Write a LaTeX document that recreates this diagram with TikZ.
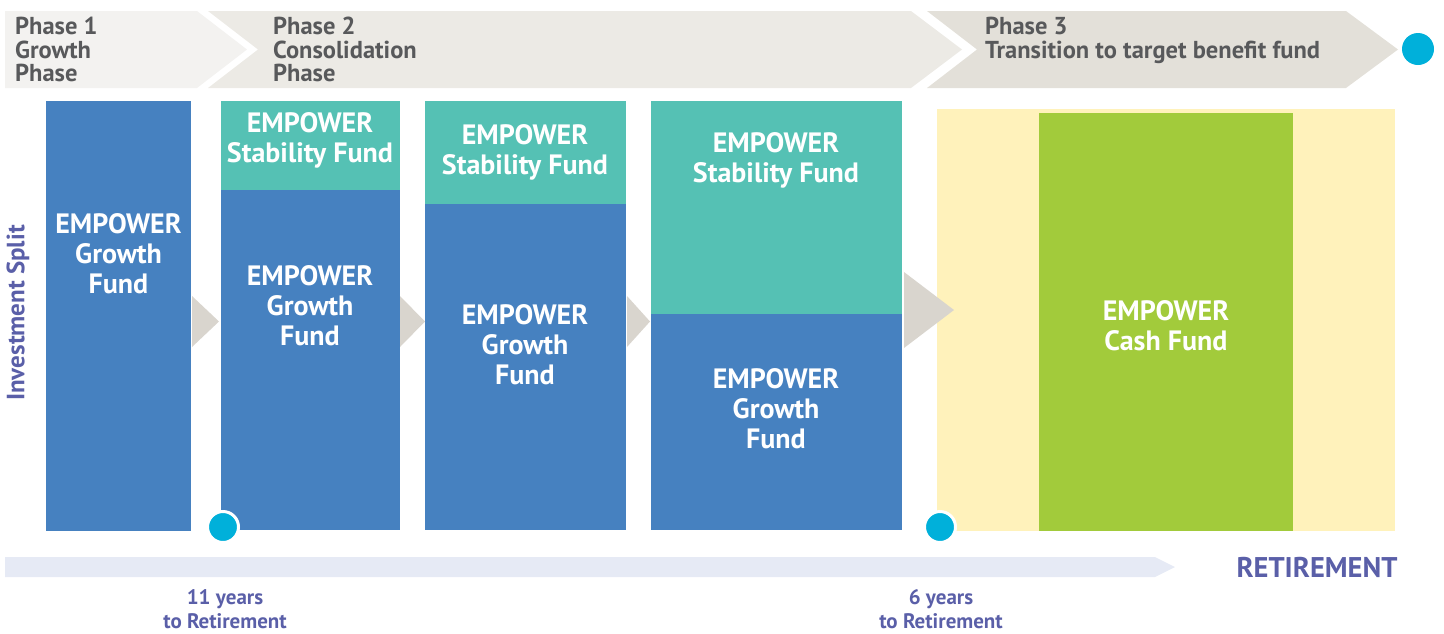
\documentclass[tikz,border=0pt]{standalone}
\usepackage{fontspec}
\setmainfont{PT Sans}
\definecolor{phA}{HTML}{F3F2F0}
\definecolor{phB}{HTML}{ECEAE5}
\definecolor{phC}{HTML}{E3E0D9}
\definecolor{fblue}{HTML}{4681C0}
\definecolor{fteal}{HTML}{55C1B4}
\definecolor{fyellow}{HTML}{FFF2BB}
\definecolor{fgreen}{HTML}{A2CB3B}
\definecolor{agray}{HTML}{D9D5CE}
\definecolor{dotc}{HTML}{00B0DA}
\definecolor{barc}{HTML}{E6EAF5}
\definecolor{purp}{HTML}{5A5FA8}
\definecolor{tgray}{HTML}{58595B}
\begin{document}
\begin{tikzpicture}[x=1pt,y=-1pt,
  fundtxt/.style={text=white,font=\bfseries\fontsize{28}{30}\selectfont,align=center,inner sep=0pt},
  phasetxt/.style={text=tgray,font=\bfseries\fontsize{24.5}{23.5}\selectfont,align=left,anchor=north west,inner sep=0pt},
  yeartxt/.style={text=purp,font=\bfseries\fontsize{21}{24}\selectfont,align=center,inner sep=0pt},
  dotst/.style={circle,fill=dotc,draw=white,line width=3pt,minimum size=31pt,inner sep=0pt},
  tri/.style={fill=agray}]
\useasboundingbox (0,0) rectangle (1444,633);
% phase bands
\fill[phA] (5,11) -- (197,11) -- (247,49.5) -- (197,88) -- (5,88) -- cycle;
\fill[phB] (208,11) -- (911,11) -- (962,49.5) -- (911,88) -- (208,88) -- (258,49.5) -- cycle;
\fill[phC] (927,11) -- (1346,11) -- (1398,49.5) -- (1346,88) -- (927,88) -- (977,49.5) -- cycle;
\node[phasetxt] (p1) at (15,17) {Phase 1\\Growth\\Phase};
\node[phasetxt] (p2) at (273,17) {Phase 2\\Consolidation\\Phase};
\node[phasetxt] (p3) at (985,17) {Phase 3\\Transition to target benefit fund};
\node[circle,fill=dotc,minimum size=32pt,inner sep=0pt] (dend) at (1418,49) {};
% columns
\fill[fblue] (46,101) rectangle (191,531);
\fill[fteal] (221,101) rectangle (400,190);
\fill[fblue] (221,190) rectangle (400,530);
\fill[fteal] (425,101) rectangle (626,204);
\fill[fblue] (425,204) rectangle (626,530);
\fill[fteal] (651,101) rectangle (902,314);
\fill[fblue] (651,314) rectangle (902,530);
\fill[fyellow] (937,109) rectangle (1395,531);
\fill[fgreen] (1039,113) rectangle (1293,531);
% arrows
\fill[tri] (192,296) -- (219,321.5) -- (192,347) -- cycle;
\fill[tri] (400,296) -- (425,321.5) -- (400,347) -- cycle;
\fill[tri] (627,296) -- (650,321.5) -- (627,347) -- cycle;
\fill[tri] (904,272) -- (954,310) -- (904,348) -- cycle;
% texts
\node[fundtxt] (g1) at (118.5,254) {EMPOWER\\Growth\\Fund};
\node[fundtxt] (s2) at (310,140) {EMPOWER\\Stability Fund};
\node[fundtxt] (g2) at (310,306) {EMPOWER\\Growth\\Fund};
\node[fundtxt] (s3) at (525,152) {EMPOWER\\Stability Fund};
\node[fundtxt] (g3) at (525,345) {EMPOWER\\Growth\\Fund};
\node[fundtxt] (s4) at (776,160) {EMPOWER\\Stability Fund};
\node[fundtxt] (g4) at (776,409) {EMPOWER\\Growth\\Fund};
\node[fundtxt] (cash) at (1166,326) {EMPOWER\\Cash Fund};
% dots
\node[dotst] (d1) at (223,527) {};
\node[dotst] (d2) at (940,527) {};
% bottom bar
\fill[barc] (5,557) -- (1155,557) -- (1175,567) -- (1155,577) -- (5,577) -- cycle;
\node[text=purp,font=\bfseries\fontsize{28.5}{30}\selectfont,inner sep=0pt] (ret) at (1317,567) {RETIREMENT};
\node[yeartxt] (y11) at (225,609) {11 years\\to Retirement};
\node[yeartxt] (y6) at (941,609) {6 years\\to Retirement};
\node[text=purp,font=\bfseries\fontsize{25}{24}\selectfont,rotate=90,inner sep=0pt] (inv) at (18,313) {Investment Split};
\end{tikzpicture}
\end{document}
